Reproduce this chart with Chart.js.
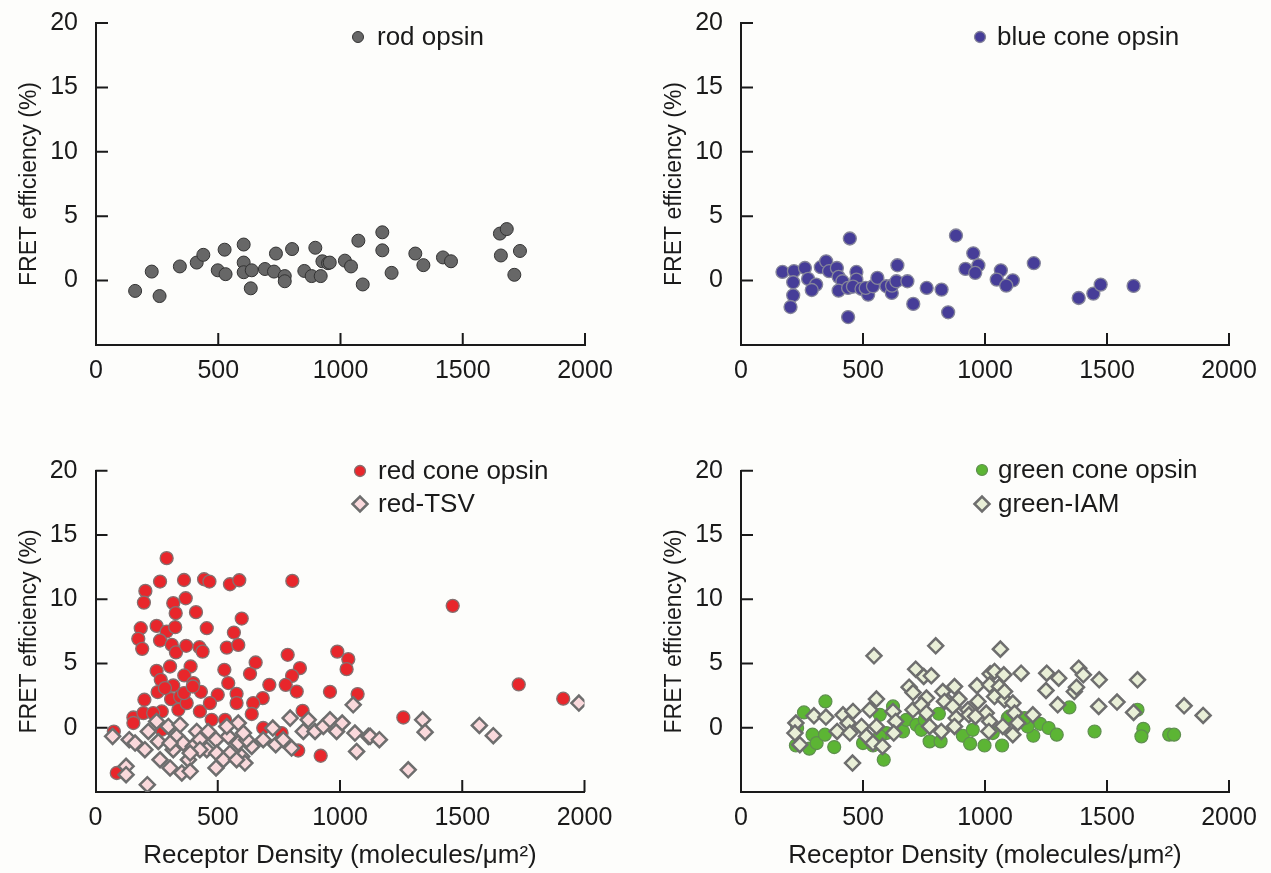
<!DOCTYPE html>
<html>
<head>
<meta charset="utf-8">
<script src="https://cdn.jsdelivr.net/npm/chart.js@4.4.0/dist/chart.umd.min.js"></script>
<style>
  html, body { margin: 0; padding: 0; background: #fdfdfb; }
  #wrap { position: relative; width: 1271px; height: 873px; overflow: hidden; }
  canvas { position: absolute; }
</style>
</head>
<body>
<div id="wrap">
  <canvas id="rod" width="635" height="440" style="left:0;top:0"></canvas>
  <canvas id="blue" width="636" height="440" style="left:635px;top:0"></canvas>
  <canvas id="red" width="635" height="433" style="left:0;top:440px"></canvas>
  <canvas id="green" width="636" height="433" style="left:635px;top:440px"></canvas>
</div>
<script>
// receptor density (molecules/um^2) and FRET efficiency (%)
const rodX = [160,228,260,343,412,439,498,526,530,604,604,604,637,633,691,728,736,772,772,802,852,882,897,919,926,949,956,1018,1043,1073,1091,1171,1171,1209,1306,1339,1419,1452,1652,1680,1656,1734,1711];
const rodY = [-0.8,0.7,-1.2,1.1,1.4,2.0,0.8,2.4,0.5,2.8,1.4,0.65,0.8,-0.6,0.9,0.7,2.1,0.35,-0.05,2.45,0.75,0.35,2.55,0.35,1.5,1.35,1.4,1.55,1.1,3.1,-0.3,3.75,2.35,0.6,2.1,1.2,1.8,1.5,3.65,4.0,1.95,2.3,0.45];

const blueX = [170,217,214,214,203,262,275,308,290,327,349,361,393,400,416,400,446,439,439,473,473,459,494,521,511,541,559,596,618,619,641,637,682,706,761,822,849,881,952,920,973,960,1065,1048,1114,1087,1200,1384,1444,1474,1609];
const blueY = [0.67,0.73,-0.13,-1.14,-2.05,0.98,0.13,-0.31,-0.73,1.04,1.5,0.73,0.98,0.29,-0.05,-0.78,3.27,-2.83,-0.57,0.67,0.08,-0.47,-0.65,-1.09,-0.57,-0.44,0.21,-0.44,-0.96,-0.39,1.19,-0.05,-0.05,-1.81,-0.57,-0.7,-2.46,3.5,2.12,0.91,1.19,0.6,0.8,0.08,0.02,-0.39,1.35,-1.35,-1.01,-0.31,-0.41];

const redX = [291,264,362,444,466,550,588,805,204,198,318,369,328,411,598,185,250,291,326,455,566,175,191,264,312,329,371,425,438,537,584,250,305,389,267,318,363,400,200,254,309,346,339,373,431,500,543,577,577,527,655,632,711,684,645,639,786,836,804,778,823,847,427,468,475,530,155,196,155,271,87,686,761,829,921,959,989,1034,1027,1072,75,284,362,398,271,236,1461,1731,1913,1259];
const redY = [13.2,11.38,11.5,11.56,11.38,11.17,11.48,11.43,10.65,9.74,9.7,10.08,8.92,9.0,8.5,7.75,7.93,7.49,7.83,7.75,7.41,6.92,6.14,6.79,6.45,5.86,6.38,6.27,5.93,6.24,6.45,4.43,4.77,4.77,3.73,3.29,4.07,3.48,2.18,2.78,2.23,2.43,1.4,1.92,2.8,2.57,3.48,2.64,1.92,4.51,5.08,4.2,3.34,2.31,1.92,1.07,5.68,4.64,4.04,3.34,2.82,1.32,1.27,1.92,0.62,0.62,0.8,1.14,0.37,-0.16,-3.52,-0.02,-0.41,-1.77,-2.18,2.8,5.93,5.34,4.56,2.62,-0.3,3.09,2.7,3.21,1.27,1.14,9.49,3.37,2.26,0.8];

const tsvX = [70,125,125,212,138,162,202,216,257,264,305,298,332,318,353,380,387,359,400,414,427,461,455,493,496,493,543,550,584,584,598,611,639,618,686,725,737,768,796,802,850,870,898,932,959,986,1009,1054,1061,1068,1116,250,346,427,537,305,387,605,523,577,1338,1348,1279,1123,1161,1570,1627,1977];
const tsvY = [-0.67,-3.0,-3.65,-4.43,-0.93,-1.19,-1.71,-0.29,-1.07,-2.49,-3.13,0.1,-0.67,-1.71,-3.52,-2.49,-3.39,-1.19,-1.45,-0.29,-0.93,-0.29,-1.71,-0.93,-1.97,-3.13,-0.67,-1.97,0.37,-1.19,-2.23,-2.75,-1.45,-0.93,-0.93,-0.02,-1.32,-0.93,0.75,-1.58,-0.29,0.62,-0.29,0.1,0.62,-0.29,0.37,1.79,-0.41,-1.84,-0.67,0.49,0.23,-1.71,0.1,-1.19,-1.97,-0.41,-2.49,-2.49,0.62,-0.34,-3.27,-0.67,-0.93,0.18,-0.62,1.92];

const greenX = [346,258,230,225,280,293,310,344,382,500,541,569,585,623,596,664,678,719,739,773,811,818,909,939,998,1070,950,1032,1093,753,569,1198,1226,1261,1294,1346,1175,1100,1449,1625,1649,1641,1755,1775,1162];
const greenY = [2.05,1.19,-0.02,-1.38,-1.63,-0.54,-1.19,-0.54,-1.5,-1.19,-1.38,1.01,-2.49,1.66,-0.41,-0.29,0.62,0.23,-0.16,-1.06,1.09,-1.06,-0.62,-1.24,-1.38,-1.38,-0.16,-0.41,0.75,0.62,-0.67,-0.62,0.31,-0.02,-0.54,1.58,0.1,0.88,-0.29,1.4,-0.08,-0.67,-0.54,-0.54,0.75];

const iamX = [545,798,1063,716,749,780,689,705,555,760,827,875,848,893,967,1021,1039,1077,1019,1059,1039,1080,225,221,241,299,348,394,418,439,459,446,457,494,528,514,541,555,580,623,634,626,705,739,760,773,821,834,868,882,875,930,934,971,1005,1019,1016,1073,1080,961,1148,1253,1302,1250,1384,1403,1366,1375,1468,1625,1298,1466,1541,1609,1816,1894,1114,1121,1134,1114,1196];
const iamY = [5.6,6.38,6.12,4.56,3.99,4.04,3.16,2.74,2.23,2.31,2.82,3.21,2.05,2.23,3.27,4.2,4.38,4.12,3.34,3.21,2.43,2.18,0.37,-0.41,-1.32,0.93,0.83,-0.29,1.01,0.37,1.27,-0.41,-2.75,0.1,1.4,-0.67,-1.19,0.1,-1.45,1.27,0.49,-0.41,1.4,1.79,1.14,0.1,-0.29,2.05,1.66,0.75,0.1,1.4,1.01,2.05,1.14,0.49,-0.29,0.1,2.82,0.88,4.25,4.25,3.86,2.9,4.64,4.12,2.82,3.16,3.73,3.73,1.79,1.66,2.0,1.19,1.71,0.96,1.92,1.14,0.37,-0.54,1.01];

const xTicks = [0, 500, 1000, 1500, 2000];
const yTicks = [0, 5, 10, 15, 20];

const pts = (xs, ys) => xs.map((x, i) => ({ x, y: ys[i] }));

const INK = '#1a1a1a';
const FONT = 'Liberation Sans';

// tick marks in the reference point into the plot
const innerTicks = {
  id: 'innerTicks',
  afterDraw(chart) {
    const { ctx, chartArea: a, scales: { x, y } } = chart;
    ctx.save();
    ctx.strokeStyle = INK;
    ctx.lineWidth = 2;
    ctx.beginPath();
    y.ticks.forEach(t => {
      const py = y.getPixelForValue(t.value);
      ctx.moveTo(a.left, py);
      ctx.lineTo(a.left + 12, py);
    });
    x.ticks.forEach(t => {
      if (t.value <= 0) return;
      const px = x.getPixelForValue(t.value);
      ctx.moveTo(px, a.bottom);
      ctx.lineTo(px, a.bottom - 12);
    });
    ctx.stroke();
    ctx.restore();
  }
};

// small legend placed inside the plot, like the original
const innerLegend = {
  id: 'innerLegend',
  afterDraw(chart, args, opts) {
    const { ctx } = chart;
    ctx.save();
    ctx.font = '26px "' + FONT + '"';
    ctx.textBaseline = 'middle';
    opts.rows.forEach((row, i) => {
      const ds = chart.data.datasets[row];
      const y = opts.y + i * opts.gap;
      ctx.fillStyle = ds.backgroundColor;
      ctx.strokeStyle = ds.borderColor;
      ctx.lineWidth = ds.borderWidth;
      Chart.helpers.drawPoint(ctx, {
        pointStyle: ds.pointStyle,
        radius: ds.pointStyle === 'circle' ? 5.5 : 7.5,
        rotation: 0,
        borderWidth: ds.borderWidth
      }, opts.mx, y);
      ctx.fillStyle = INK;
      ctx.fillText(ds.label, opts.tx, y + 1);
    });
    ctx.restore();
  }
};

function circles(label, data, fill, border, bw) {
  return {
    label, data, pointStyle: 'circle', pointRadius: 6.5, borderWidth: bw,
    backgroundColor: fill, borderColor: border, order: 2
  };
}
function diamonds(label, data, fill) {
  return {
    label, data, pointStyle: 'rectRot', pointRadius: 7.5, borderWidth: 2.5,
    backgroundColor: fill, borderColor: '#6e6e6e', order: 1
  };
}

function makeChart(id, datasets, p) {
  new Chart(document.getElementById(id), {
    type: 'scatter',
    data: { datasets },
    options: {
      responsive: false,
      animation: false,
      devicePixelRatio: 1,
      layout: { padding: { top: p.top, right: p.right, left: 0, bottom: 0 } },
      plugins: {
        legend: { display: false },
        tooltip: { enabled: false },
        innerLegend: p.legend
      },
      scales: {
        x: {
          type: 'linear', min: 0, max: 2000,
          afterBuildTicks: s => { s.ticks = xTicks.map(v => ({ value: v })); },
          afterFit: s => { s.height = p.xH; s.paddingLeft = 0; s.paddingRight = 0; },
          grid: { display: false },
          border: { color: INK, width: 2 },
          ticks: { color: INK, padding: 3, font: { family: FONT, size: 25 }, callback: v => String(v) },
          title: {
            display: p.xTitle, text: 'Receptor Density (molecules/μm²)', color: INK,
            font: { family: FONT, size: 26 }, padding: { top: 0, bottom: 2 }
          }
        },
        y: {
          type: 'linear', min: -5, max: 20,
          afterBuildTicks: s => { s.ticks = yTicks.map(v => ({ value: v })); },
          afterFit: s => { s.width = p.yW; s.paddingTop = 0; s.paddingBottom = 0; },
          grid: { display: false },
          border: { color: INK, width: 2 },
          ticks: { color: INK, padding: 10, font: { family: FONT, size: 25 }, callback: v => String(v) },
          title: {
            display: true, text: 'FRET efficiency (%)', color: INK,
            font: { family: FONT, size: 23 }, padding: { top: p.yTitlePad, bottom: 0 }
          }
        }
      }
    },
    plugins: [innerTicks, innerLegend]
  });
}

makeChart('rod', [
  circles('rod opsin', pts(rodX, rodY), '#676767', '#333333', 1)
], { top: 23, right: 50, yW: 96, xH: 95, xTitle: false, yTitlePad: 16,
     legend: { rows: [0], mx: 358, tx: 377, y: 37, gap: 33 } });

makeChart('blue', [
  circles('blue cone opsin', pts(blueX, blueY), '#463d98', '#85859a', 1.3)
], { top: 23, right: 42, yW: 106, xH: 95, xTitle: false, yTitlePad: 26,
     legend: { rows: [0], mx: 345, tx: 362, y: 37, gap: 33 } });

makeChart('red', [
  circles('red cone opsin', pts(redX, redY), '#e8262b', '#857070', 1.3),
  diamonds('red-TSV', pts(tsvX, tsvY), '#fad9dc')
], { top: 30.8, right: 50.5, yW: 95.5, xH: 81, xTitle: true, yTitlePad: 16,
     legend: { rows: [0, 1], mx: 360, tx: 378, y: 31, gap: 33 } });

makeChart('green', [
  circles('green cone opsin', pts(greenX, greenY), '#5cb534', '#5f8f4f', 1.2),
  diamonds('green-IAM', pts(iamX, iamY), '#e9efd7')
], { top: 30.8, right: 42, yW: 106, xH: 81, xTitle: true, yTitlePad: 26,
     legend: { rows: [0, 1], mx: 347, tx: 363, y: 30, gap: 34 } });
</script>
</body>
</html>
